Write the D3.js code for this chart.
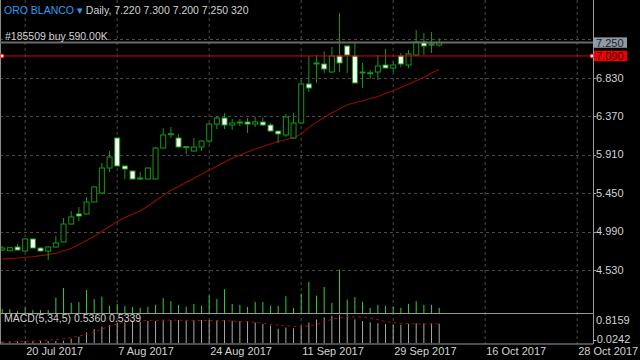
<!DOCTYPE html>
<html>
<head>
<meta charset="utf-8">
<script src="https://cdn.jsdelivr.net/npm/d3@7"></script>
<style>
  body { margin: 0; background: #000; }
  svg { display: block; font-family: 'Liberation Sans', Arial, sans-serif; }
</style>
</head>
<body>
<div id="chart"></div>
<script>
// Daily bars, oldest first
const opens = [4.769, 4.760, 4.805, 4.757, 4.901, 4.793, 4.757, 4.805, 4.865, 5.080,
  5.200, 5.200, 5.343, 5.451, 5.750, 6.109, 5.774, 5.714, 5.630, 5.618,
  5.618, 5.989, 6.150, 6.109, 6.005, 5.953, 6.001, 6.073, 6.276, 6.348,
  6.264, 6.290, 6.300, 6.276, 6.300, 6.264, 6.192, 6.145, 6.109, 6.288,
  6.755, 6.994, 6.994, 6.898, 7.090, 7.209, 7.090, 6.898, 6.886, 6.898,
  6.982, 6.946, 7.090, 6.982, 7.101, 7.257, 7.221, 7.220];
const highs = [4.817, 4.800, 4.841, 4.905, 4.905, 4.800, 4.810, 4.936, 5.152, 5.235,
  5.283, 5.403, 5.530, 5.810, 5.953, 6.115, 5.780, 5.720, 5.702, 5.755,
  6.001, 6.228, 6.240, 6.157, 6.010, 6.109, 6.080, 6.288, 6.372, 6.408,
  6.336, 6.336, 6.348, 6.360, 6.348, 6.288, 6.195, 6.396, 6.408, 6.802,
  7.090, 7.101, 7.149, 7.197, 7.604, 7.215, 7.257, 7.006, 6.922, 7.101,
  7.173, 7.018, 7.125, 7.161, 7.401, 7.365, 7.377, 7.300];
const lows = [4.757, 4.755, 4.765, 4.752, 4.790, 4.752, 4.649, 4.800, 4.860, 5.075,
  5.116, 5.195, 5.340, 5.445, 5.702, 5.770, 5.618, 5.610, 5.606, 5.612,
  5.612, 5.985, 6.110, 5.995, 5.917, 5.950, 5.953, 6.049, 6.216, 6.216,
  6.204, 6.252, 6.168, 6.240, 6.255, 6.185, 6.049, 6.121, 6.100, 6.280,
  6.659, 6.767, 6.886, 6.890, 6.898, 6.886, 6.760, 6.707, 6.814, 6.802,
  6.940, 6.898, 6.958, 6.946, 7.090, 7.101, 7.125, 7.200];
const closes = [4.793, 4.796, 4.769, 4.901, 4.793, 4.757, 4.805, 4.853, 5.080, 5.164,
  5.176, 5.343, 5.523, 5.750, 5.881, 5.774, 5.738, 5.618, 5.625, 5.750,
  5.989, 6.145, 6.160, 6.001, 5.995, 6.001, 6.073, 6.276, 6.348, 6.264,
  6.288, 6.300, 6.276, 6.300, 6.264, 6.192, 6.157, 6.360, 6.288, 6.755,
  6.707, 7.006, 6.934, 7.090, 7.006, 7.101, 6.767, 6.890, 6.890, 6.970,
  6.946, 6.982, 6.994, 7.113, 7.257, 7.209, 7.233, 7.250];
const volumes = [247, 247, 135, 320, 191, 191, 191, 898, 1442, 600,
  640, 1330, 808, 954, 432, 544, 415, 359, 320, 376,
  488, 864, 696, 488, 376, 544, 432, 1010, 808, 1369,
  544, 488, 376, 656, 656, 432, 432, 976, 320, 1105,
  1778, 1010, 1498, 600, 2468, 785, 920, 656, 320, 488,
  432, 376, 320, 544, 696, 488, 488, 320];
const maValues = [4.660, 4.669, 4.674, 4.682, 4.689, 4.702, 4.714, 4.733, 4.761, 4.788,
  4.834, 4.884, 4.933, 4.990, 5.050, 5.110, 5.157, 5.196, 5.236, 5.293,
  5.358, 5.423, 5.483, 5.530, 5.580, 5.627, 5.676, 5.724, 5.773, 5.819,
  5.867, 5.905, 5.941, 5.976, 6.007, 6.037, 6.066, 6.088, 6.111, 6.155,
  6.236, 6.299, 6.355, 6.407, 6.457, 6.506, 6.530, 6.555, 6.579, 6.604,
  6.641, 6.677, 6.713, 6.751, 6.793, 6.836, 6.885, 6.932];
const macdMain = [0.039, 0.039, 0.047, 0.058, 0.058, 0.058, 0.058, 0.058, 0.067, 0.122,
  0.177, 0.299, 0.391, 0.455, 0.502, 0.571, 0.577, 0.593, 0.593, 0.613,
  0.613, 0.635, 0.640, 0.640, 0.632, 0.640, 0.640, 0.640, 0.640, 0.640,
  0.621, 0.613, 0.613, 0.571, 0.530, 0.488, 0.399, 0.432, 0.410, 0.488,
  0.571, 0.654, 0.715, 0.760, 0.790, 0.8159, 0.660, 0.613, 0.577, 0.549,
  0.530, 0.510, 0.510, 0.530, 0.549, 0.549, 0.549, 0.5360];
const macdSignal = [0.025, 0.036, 0.042, 0.050, 0.058, 0.072, 0.086, 0.103, 0.116, 0.150,
  0.197, 0.244, 0.313, 0.388, 0.468, 0.532, 0.582, 0.604, 0.618, 0.627,
  0.632, 0.638, 0.638, 0.635, 0.632, 0.630, 0.627, 0.627, 0.627, 0.621,
  0.610, 0.602, 0.590, 0.577, 0.552, 0.527, 0.502, 0.477, 0.463, 0.457,
  0.480, 0.519, 0.582, 0.663, 0.699, 0.732, 0.732, 0.724, 0.699, 0.652,
  0.602, 0.571, 0.549, 0.541, 0.532, 0.530, 0.532, 0.5339];

const priceTicks = [7.29, 6.83, 6.37, 5.91, 5.45, 4.99, 4.53];
const priceTickLabels = ['', '6.830', '6.370', '5.910', '5.450', '4.990', '4.530'];
const dateTickIdx = [3, 15, 27, 39, 51, 63, 75];
const dateTickLabels = ['20 Jul 2017', '7 Aug 2017', '24 Aug 2017', '11 Sep 2017',
  '29 Sep 2017', '16 Oct 2017', '28 Oct 2017'];
const macdTicks = [0.8159, -0.0242];
const bidPrice = 7.25;
const orderPrice = 7.09;

const width = 640;
const height = 360;
const plotRight = 593;
const priceBottom = 313.5;
const macdBottom = 344;

const green = '#159915';
const volGreen = '#35cc35';
const gridColor = '#4a4a4a';
const textColor = '#d2d2d2';

const svg = d3.select('#chart')
  .append('svg')
  .attr('width', width)
  .attr('height', height)
  .style('background', '#000');

const x = d3.scaleLinear().domain([0, 75]).range([2.2, 577.2]);
const y = d3.scaleLinear().domain([4.53, 6.83]).range([270, 77.7]);
const yVol = d3.scaleLinear().domain([0, 2468]).range([priceBottom, 269.7]);
const yMacd = d3.scaleLinear().domain([-0.0242, 0.8159]).range([macdBottom, 313.7]);

// grid
const grid = svg.append('g').attr('stroke', gridColor).attr('stroke-dasharray', '3,3');
grid.selectAll('.hgrid')
  .data(priceTicks)
  .join('line')
  .attr('x1', 0)
  .attr('x2', plotRight)
  .attr('y1', (d) => Math.round(y(d)) + 0.5)
  .attr('y2', (d) => Math.round(y(d)) + 0.5);
grid.selectAll('.vgrid')
  .data(dateTickIdx)
  .join('line')
  .attr('x1', (d) => x(d))
  .attr('x2', (d) => x(d))
  .attr('y1', 0)
  .attr('y2', macdBottom);

// moving average
svg.append('path')
  .datum(maValues)
  .attr('fill', 'none')
  .attr('stroke', '#8e0c0c')
  .attr('stroke-width', 1.1)
  .attr('d', d3.line().x((d, i) => x(i)).y((d) => y(d)));

// volumes
svg.append('g')
  .attr('stroke', volGreen)
  .selectAll('line')
  .data(volumes)
  .join('line')
  .attr('x1', (d, i) => x(i))
  .attr('x2', (d, i) => x(i))
  .attr('y1', yVol(0))
  .attr('y2', (d) => yVol(d));

// candles
const candles = svg.append('g')
  .selectAll('g')
  .data(d3.range(opens.length))
  .join('g');

candles.append('line')
  .attr('stroke', green)
  .attr('x1', (i) => x(i))
  .attr('x2', (i) => x(i))
  .attr('y1', (i) => y(highs[i]))
  .attr('y2', (i) => y(lows[i]));

candles.append('rect')
  .attr('x', (i) => x(i) - 2.5)
  .attr('width', 5)
  .attr('y', (i) => y(Math.max(opens[i], closes[i])))
  .attr('height', (i) => Math.max(1, Math.abs(y(opens[i]) - y(closes[i]))))
  .attr('fill', (i) => (closes[i] >= opens[i] ? '#000' : '#fff'))
  .attr('stroke', green)
  .attr('stroke-width', 1);

// MACD histogram and signal
svg.append('g')
  .attr('stroke', '#a8a8a8')
  .selectAll('line')
  .data(macdMain)
  .join('line')
  .attr('x1', (d, i) => x(i))
  .attr('x2', (d, i) => x(i))
  .attr('y1', yMacd(0))
  .attr('y2', (d) => yMacd(d));

svg.append('path')
  .datum(macdSignal)
  .attr('fill', 'none')
  .attr('stroke', '#9a0c0c')
  .attr('stroke-dasharray', '3,3')
  .attr('d', d3.line().x((d, i) => x(i)).y((d) => yMacd(d)));

// frame lines
svg.append('line')
  .attr('x1', 0).attr('x2', plotRight)
  .attr('y1', priceBottom).attr('y2', priceBottom)
  .attr('stroke', '#9a9a9a');
svg.append('line')
  .attr('x1', 0).attr('x2', plotRight)
  .attr('y1', macdBottom).attr('y2', macdBottom)
  .attr('stroke', '#9a9a9a');
svg.append('line')
  .attr('x1', 0.5).attr('x2', 0.5)
  .attr('y1', 0).attr('y2', macdBottom)
  .attr('stroke', '#8a8a8a');
svg.append('line')
  .attr('x1', plotRight + 0.5).attr('x2', plotRight + 0.5)
  .attr('y1', 0).attr('y2', macdBottom)
  .attr('stroke', '#9a9a9a');

// bid line and order line
svg.append('line')
  .attr('x1', 0).attr('x2', plotRight)
  .attr('y1', y(bidPrice)).attr('y2', y(bidPrice))
  .attr('stroke', '#6a6a6a')
  .attr('stroke-width', 2);
svg.append('line')
  .attr('x1', 0).attr('x2', plotRight)
  .attr('y1', y(orderPrice)).attr('y2', y(orderPrice))
  .attr('stroke', '#e00000');
svg.selectAll('.order-dot')
  .data([2, plotRight - 1])
  .join('circle')
  .attr('cx', (d) => d)
  .attr('cy', y(orderPrice))
  .attr('r', 2)
  .attr('fill', '#fff')
  .attr('stroke', '#f00000');

// right price axis
const axisG = svg.append('g').attr('font-size', 11).attr('fill', textColor);
axisG.selectAll('text')
  .data(priceTicks.filter((d, i) => priceTickLabels[i]))
  .join('text')
  .attr('x', plotRight + 3)
  .attr('y', (d) => y(d))
  .attr('dy', '0.35em')
  .text((d) => priceTickLabels[priceTicks.indexOf(d)]);
svg.append('g')
  .attr('stroke', '#9a9a9a')
  .selectAll('line')
  .data(priceTicks.slice(1))
  .join('line')
  .attr('x1', plotRight)
  .attr('x2', plotRight + 3)
  .attr('y1', (d) => Math.round(y(d)) + 0.5)
  .attr('y2', (d) => Math.round(y(d)) + 0.5);

// price boxes
function priceBox(price, fill, color) {
  const g = svg.append('g');
  g.append('rect')
    .attr('x', plotRight + 1)
    .attr('y', y(price) - 5.2)
    .attr('width', 33)
    .attr('height', 10.4)
    .attr('fill', fill);
  g.append('text')
    .attr('x', plotRight + 3)
    .attr('y', y(price))
    .attr('dy', '0.36em')
    .attr('font-size', 11)
    .attr('fill', color)
    .text(d3.format('.3f')(price));
}
priceBox(bidPrice, '#8e9aa4', '#1e2328');
priceBox(orderPrice, '#f00000', '#3a0000');

// MACD axis labels
svg.append('g')
  .attr('font-size', 11)
  .attr('fill', textColor)
  .selectAll('text')
  .data(macdTicks)
  .join('text')
  .attr('x', (d) => (d < 0 ? plotRight : plotRight + 3))
  .attr('y', (d, i) => (i === 0 ? yMacd(d) + 6.5 : yMacd(d) - 4.5))
  .attr('dy', '0.35em')
  .text((d) => d3.format('.4f')(d).replace('−', '-'));

// date axis
svg.append('g')
  .attr('font-size', 11)
  .attr('fill', textColor)
  .selectAll('text')
  .data(dateTickIdx)
  .join('text')
  .attr('x', (d) => x(d) + 1)
  .attr('y', 351)
  .attr('dy', '0.35em')
  .text((d, i) => dateTickLabels[i]);

// header texts
const header = svg.append('text')
  .attr('x', 4)
  .attr('y', 10)
  .attr('dy', '0.35em')
  .attr('font-size', 10.5);
header.append('tspan').attr('fill', '#2d9cf0').text('ORO BLANCO ▾ ');
header.append('tspan').attr('fill', textColor)
  .text(`Daily, ${d3.format('.3f')(opens[57])} ${d3.format('.3f')(highs[57])} ${d3.format('.3f')(lows[57])} ${d3.format('.3f')(closes[57])} ${volumes[57]}`);

svg.append('text')
  .attr('x', 5)
  .attr('y', 36)
  .attr('dy', '0.35em')
  .attr('font-size', 10.5)
  .attr('fill', textColor)
  .text('#185509 buy 590.00K');

svg.append('text')
  .attr('x', 4)
  .attr('y', 318.5)
  .attr('dy', '0.35em')
  .attr('font-size', 10.5)
  .attr('fill', textColor)
  .text(`MACD(5,34,5) ${d3.format('.4f')(macdMain[57])} ${d3.format('.4f')(macdSignal[57])}`);
</script>
</body>
</html>
